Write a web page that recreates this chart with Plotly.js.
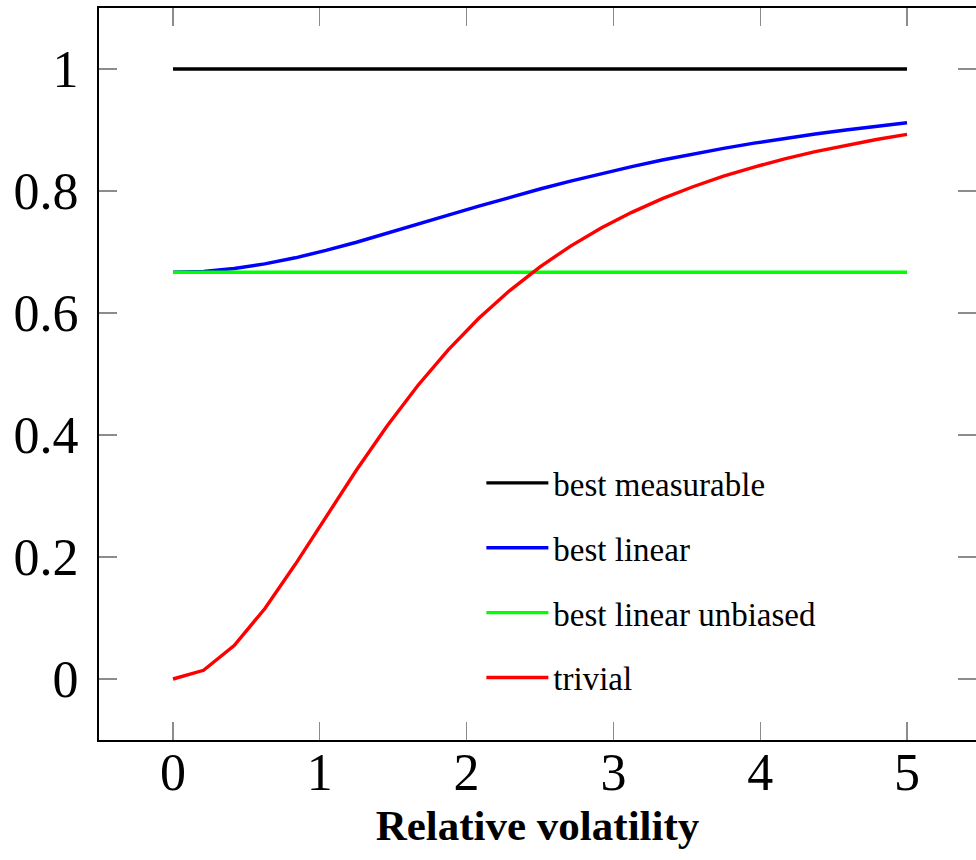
<!DOCTYPE html>
<html>
<head>
<meta charset="utf-8">
<script src="https://cdn.plot.ly/plotly-3.0.1.min.js"></script>
<style>html,body{margin:0;padding:0;background:#fff;}</style>
</head>
<body>
<div id="chart" style="width:976px;height:860px;"></div>
<script>
// Relative volatility samples (25 samples over [0,5])
var xVals = [0, 0.2083, 0.4167, 0.625, 0.8333, 1.0417, 1.25, 1.4583, 1.6667, 1.875, 2.0833, 2.2917, 2.5,
             2.7083, 2.9167, 3.125, 3.3333, 3.5417, 3.75, 3.9583, 4.1667, 4.375, 4.5833, 4.7917, 5];
var bestMeasurable = [1,1,1,1,1,1,1,1,1,1,1,1,1,1,1,1,1,1,1,1,1,1,1,1,1];
var bestLinear = [0.6667, 0.6683, 0.6730, 0.6805, 0.6905, 0.7025, 0.7160, 0.7304, 0.7453, 0.7603, 0.7751, 0.7895, 0.8033,
                  0.8163, 0.8286, 0.8401, 0.8508, 0.8607, 0.8699, 0.8784, 0.8862, 0.8934, 0.9000, 0.9061, 0.9118];
var bestLinearUnbiased = [0.6667, 0.6667, 0.6667, 0.6667, 0.6667, 0.6667, 0.6667, 0.6667, 0.6667, 0.6667, 0.6667, 0.6667, 0.6667,
                          0.6667, 0.6667, 0.6667, 0.6667, 0.6667, 0.6667, 0.6667, 0.6667, 0.6667, 0.6667, 0.6667, 0.6667];
var trivial = [0, 0.0143, 0.0547, 0.1152, 0.1880, 0.2656, 0.3425, 0.4148, 0.4808, 0.5396, 0.5913, 0.6364, 0.6757,
               0.7097, 0.7393, 0.7650, 0.7874, 0.8070, 0.8242, 0.8393, 0.8527, 0.8645, 0.8750, 0.8844, 0.8929];
var seriesNames = ['best measurable', 'best linear', 'best linear unbiased', 'trivial'];
var xTickVals = [0, 1, 2, 3, 4, 5];
var xTickText = ['0', '1', '2', '3', '4', '5'];
var yTickVals = [0, 0.2, 0.4, 0.6, 0.8, 1];
var yTickText = ['0', '0.2', '0.4', '0.6', '0.8', '1'];
var xTitle = 'Relative volatility';

var FONT = '"Liberation Serif", "DejaVu Serif", serif';
var colors = ['#000000', '#0000ff', '#00ff00', '#ff0000'];
var ys = [bestMeasurable, bestLinear, bestLinearUnbiased, trivial];

var traces = ys.map(function (y, i) {
  return {
    x: xVals, y: y, type: 'scatter', mode: 'lines',
    name: seriesNames[i], legendgroup: 'g' + i,
    line: {color: colors[i], width: 3.4, shape: 'linear'}
  };
});
// invisible helper trace for right-side ticks
traces.push({x: [0, 5], y: [0, 1], xaxis: 'x', yaxis: 'y2', mode: 'lines',
             line: {width: 0}, showlegend: false, hoverinfo: 'skip', opacity: 0});

var layout = {
  width: 976, height: 860,
  margin: {l: 99, r: 0, t: 8, b: 120},
  paper_bgcolor: '#ffffff', plot_bgcolor: '#ffffff',
  font: {family: FONT, color: '#000'},
  showlegend: true,
  legend: {
    x: 0.436, y: 0.3895, xanchor: 'left', yanchor: 'top',
    bgcolor: 'rgba(0,0,0,0)', borderwidth: 0,
    font: {family: FONT, size: 33, color: '#000'},
    tracegroupgap: 19, itemwidth: 62, traceorder: 'grouped'
  },
  xaxis: {
    range: [-0.504, 5.47], tickvals: xTickVals, ticktext: xTickText,
    showgrid: false, zeroline: false,
    showline: true, linecolor: '#000', linewidth: 2, mirror: 'ticks',
    ticks: 'inside', ticklen: 18, tickwidth: 1.2, tickcolor: '#8c8c8c',
    tickfont: {family: FONT, size: 52, color: '#000'},
    ticklabelstandoff: -14,
    title: {text: '<b>' + xTitle + '</b>', font: {family: FONT, size: 43, color: '#000'}, standoff: 9}
  },
  yaxis: {
    range: [-0.1, 1.1], tickvals: yTickVals, ticktext: yTickText,
    showgrid: false, zeroline: false,
    showline: true, linecolor: '#000', linewidth: 2, mirror: false,
    ticks: 'inside', ticklen: 18, tickwidth: 1.2, tickcolor: '#8c8c8c',
    tickfont: {family: FONT, size: 52, color: '#000'},
    ticklabelstandoff: 8
  },
  yaxis2: {
    overlaying: 'y', side: 'right', matches: 'y', range: [-0.1, 1.1],
    tickvals: yTickVals, showticklabels: false, showgrid: false, zeroline: false, showline: false,
    ticks: 'inside', ticklen: 18, tickwidth: 1.2, tickcolor: '#8c8c8c'
  }
};

Plotly.newPlot('chart', traces, layout, {displayModeBar: false, staticPlot: true});
</script>
</body>
</html>
